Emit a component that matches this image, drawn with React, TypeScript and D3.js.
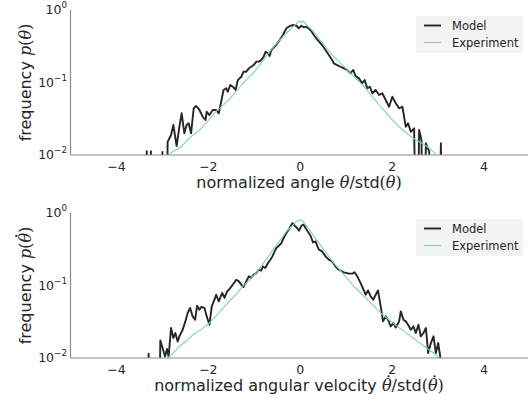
import React, { useLayoutEffect, useRef, useState } from 'react';
import * as d3 from 'd3';

// ---------- data ----------
const xTicks = [-4, -2, 0, 2, 4];
const yTicks = [0.01, 0.1, 1];
const yTickExponents = ['−2', '−1', '0'];
const seriesNames = ['Model', 'Experiment'];

// angle distribution: [normalized angle, frequency]  (0 = empty bin)
const angleModel: [number, number][] = [
  [-3.42, 0], [-3.34, 0.0113], [-3.31, 0], [-3.25, 0.0113], [-3.22, 0], [-3.02, 0], [-3.0, 0.011], [-2.97, 0], [-2.92, 0],
  [-2.886, 0.0152], [-2.812, 0.0189], [-2.762, 0.0259], [-2.69, 0.0133], [-2.631, 0.0245], [-2.581, 0.0376], [-2.522, 0.0199],
  [-2.472, 0.0259], [-2.428, 0.0274], [-2.376, 0.0199], [-2.319, 0.0441], [-2.266, 0.0474], [-2.194, 0.0418], [-2.122, 0.0337],
  [-2.063, 0.0304], [-2.035, 0.0395], [-1.976, 0.0356], [-1.904, 0.0418], [-1.83, 0.0418], [-1.773, 0.0376], [-1.721, 0.0543],
  [-1.67, 0.0789], [-1.611, 0.0832], [-1.576, 0.0746], [-1.524, 0.0925], [-1.467, 0.0875], [-1.408, 0.0789], [-1.358, 0.108],
  [-1.284, 0.12], [-1.234, 0.141], [-1.175, 0.141], [-1.118, 0.157], [-1.066, 0.165], [-1.015, 0.174], [-0.956, 0.194],
  [-0.9, 0.194], [-0.847, 0.204], [-0.797, 0.227], [-0.753, 0.266], [-0.703, 0.253], [-0.666, 0.232], [-0.629, 0.281],
  [-0.557, 0.312], [-0.448, 0.385], [-0.376, 0.452], [-0.301, 0.56], [-0.229, 0.601], [-0.157, 0.621], [-0.083, 0.607],
  [-0.033, 0.56], [0.026, 0.607], [0.076, 0.577], [0.135, 0.589], [0.223, 0.53], [0.295, 0.452], [0.367, 0.394],
  [0.476, 0.329], [0.55, 0.281], [0.622, 0.239], [0.694, 0.204], [0.731, 0.184], [0.803, 0.174], [0.878, 0.165],
  [0.95, 0.157], [1.022, 0.149], [1.096, 0.134], [1.153, 0.149], [1.205, 0.123], [1.277, 0.114], [1.349, 0.0975],
  [1.402, 0.108], [1.459, 0.0832], [1.517, 0.0875], [1.568, 0.071], [1.642, 0.0789], [1.714, 0.0673], [1.786, 0.071],
  [1.86, 0.0574], [1.932, 0.0463], [2.004, 0.0637], [2.079, 0.0516], [2.151, 0.0441], [2.223, 0.0463], [2.297, 0.0245],
  [2.347, 0.0274], [2.406, 0.0209], [2.478, 0.0233], [2.537, 0], [2.587, 0.0221], [2.638, 0.0161], [2.681, 0],
  [2.734, 0.0145], [2.806, 0.0111], [2.878, 0], [3.0, 0], [3.061, 0.0145], [3.096, 0], [3.2, 0],
];

const angleExperiment: [number, number][] = [
  [-2.9, 0.0098], [-2.78, 0.0111], [-2.59, 0.013], [-2.38, 0.0179], [-2.19, 0.0221], [-2.0, 0.03], [-1.83, 0.04],
  [-1.66, 0.05], [-1.54, 0.059], [-1.32, 0.086], [-1.18, 0.108], [-1.0, 0.14], [-0.88, 0.175], [-0.74, 0.232],
  [-0.59, 0.305], [-0.45, 0.385], [-0.3, 0.479], [-0.18, 0.57], [-0.07, 0.656], [-0.03, 0.711], [0.03, 0.667],
  [0.06, 0.711], [0.11, 0.656], [0.2, 0.57], [0.29, 0.501], [0.45, 0.373], [0.66, 0.253], [0.85, 0.192], [1.1, 0.134],
  [1.25, 0.107], [1.39, 0.0875], [1.55, 0.0659], [1.75, 0.0463], [1.92, 0.0352], [2.11, 0.0259], [2.25, 0.0218],
  [2.41, 0.0179], [2.6, 0.0151], [2.77, 0.013], [2.95, 0.0103], [3.02, 0.0095],
];

// angular velocity distribution
const velocityModel: [number, number][] = [
  [-3.4, 0], [-3.32, 0], [-3.3, 0.0115], [-3.28, 0], [-3.08, 0], [-3.046, 0.0175], [-2.996, 0.0137], [-2.943, 0.0105],
  [-2.9, 0.0133], [-2.865, 0.0105], [-2.812, 0.0259], [-2.762, 0.0189], [-2.718, 0.0221], [-2.668, 0.0169], [-2.631, 0.0199],
  [-2.559, 0.0245], [-2.5, 0.032], [-2.45, 0.0418], [-2.397, 0.049], [-2.341, 0.0375], [-2.288, 0.0337], [-2.245, 0.0526],
  [-2.194, 0.0463], [-2.157, 0.0505], [-2.085, 0.049], [-2.035, 0.0375], [-1.976, 0.0288], [-1.926, 0.0515], [-1.867, 0.0637],
  [-1.83, 0.0746], [-1.773, 0.0604], [-1.699, 0.0789], [-1.649, 0.0673], [-1.59, 0.083], [-1.539, 0.0895], [-1.467, 0.103],
  [-1.393, 0.12], [-1.336, 0.114], [-1.284, 0.103], [-1.234, 0.0953], [-1.175, 0.114], [-1.118, 0.134], [-1.066, 0.127],
  [-1.015, 0.141], [-0.956, 0.149], [-0.906, 0.165], [-0.847, 0.161], [-0.812, 0.183], [-0.76, 0.174], [-0.703, 0.204],
  [-0.651, 0.227], [-0.607, 0.252], [-0.557, 0.295], [-0.52, 0.329], [-0.463, 0.354], [-0.41, 0.385], [-0.36, 0.452],
  [-0.301, 0.53], [-0.229, 0.621], [-0.17, 0.728], [-0.12, 0.668], [-0.07, 0.621], [-0.026, 0.57], [0.026, 0.668],
  [0.076, 0.69], [0.114, 0.621], [0.223, 0.486], [0.279, 0.393], [0.332, 0.406], [0.404, 0.312], [0.476, 0.295],
  [0.55, 0.252], [0.622, 0.227], [0.694, 0.215], [0.769, 0.183], [0.841, 0.165], [0.95, 0.152], [1.059, 0.146],
  [1.131, 0.146], [1.183, 0.152], [1.24, 0.134], [1.314, 0.108], [1.371, 0.0895], [1.424, 0.0746], [1.474, 0.0855],
  [1.533, 0.0708], [1.59, 0.0637], [1.642, 0.0746], [1.692, 0.0855], [1.751, 0.0515], [1.801, 0.032], [1.86, 0.0375],
  [1.91, 0.0337], [1.969, 0.0273], [2.026, 0.0304], [2.079, 0.0264], [2.151, 0.032], [2.188, 0.044], [2.245, 0.0337],
  [2.297, 0.032], [2.347, 0.0288], [2.406, 0.0245], [2.463, 0.0273], [2.515, 0.0221], [2.572, 0.0288], [2.624, 0.0199],
  [2.681, 0.0221], [2.734, 0.0259], [2.784, 0.0117], [2.843, 0.0161], [2.9, 0.0199], [2.952, 0.0117], [3.002, 0.0161],
  [3.046, 0.0105], [3.08, 0], [3.2, 0],
];

const velocityExperiment: [number, number][] = [
  [-2.9, 0.0098], [-2.75, 0.012], [-2.63, 0.0145], [-2.48, 0.017], [-2.34, 0.0209], [-2.15, 0.025], [-1.98, 0.0304],
  [-1.8, 0.04], [-1.61, 0.0543], [-1.43, 0.072], [-1.25, 0.0973], [-1.1, 0.12], [-0.96, 0.149], [-0.77, 0.215],
  [-0.59, 0.312], [-0.45, 0.41], [-0.3, 0.557], [-0.18, 0.66], [-0.08, 0.766], [-0.01, 0.809], [0.06, 0.766],
  [0.11, 0.69], [0.3, 0.475], [0.51, 0.312], [0.73, 0.204], [0.95, 0.141], [1.17, 0.0973], [1.46, 0.0637],
  [1.75, 0.0418], [2.11, 0.0273], [2.41, 0.0199], [2.7, 0.0145], [2.95, 0.0111], [3.05, 0.0095],
];

// ---------- styling ----------
const MODEL_COLOR = '#262626';
const EXP_COLOR = '#7fd1b9';
const TEXT_COLOR = '#262626';
const SPINE_COLOR = '#8c8c8c';
const SANS = '"DejaVu Sans", sans-serif';
const SERIF = '"DejaVu Serif", serif';
const LABEL_SIZE = 16;

const mathI = { fontFamily: SERIF, fontStyle: 'italic' as const };
const mathR = { fontFamily: SERIF };

// A label (text at local origin, baseline y=0) that puts a dot above every tspan with class "dotted"
function MathLabel({ transform, children }: { transform: string; children: React.ReactNode }) {
  const ref = useRef<SVGTextElement>(null);
  const [dots, setDots] = useState<number[]>([]);
  useLayoutEffect(() => {
    if (!ref.current) return;
    const nodes = ref.current.querySelectorAll('tspan.dotted');
    const xs: number[] = [];
    nodes.forEach((n) => {
      const b = (n as SVGGraphicsElement).getBBox();
      xs.push(b.x + b.width / 2 + 1.6);
    });
    setDots(xs);
  }, []);
  return (
    <g transform={transform}>
      <text ref={ref} x={0} y={0} textAnchor="middle" fontSize={LABEL_SIZE} fill={TEXT_COLOR} fontFamily={SANS}>
        {children}
      </text>
      {dots.map((cx, i) => (
        <circle key={i} cx={cx} cy={-LABEL_SIZE * 0.92} r={1.1} fill={TEXT_COLOR} />
      ))}
    </g>
  );
}

type PanelProps = {
  id: string;
  top: number;
  model: [number, number][];
  experiment: [number, number][];
  xlabel: React.ReactNode;
  ylabel: React.ReactNode;
};

function Panel({ id, top, model, experiment, xlabel, ylabel }: PanelProps) {
  const height = 145;
  const left = 70.5;
  const right = 528;
  const x = d3.scaleLinear().domain([-5, 5]).range([70.5, 530]);
  const y = d3.scaleLog().domain([0.01, 1]).range([top + height, top]);
  const line = d3
    .line<[number, number]>()
    .x((d) => x(d[0]))
    .y((d) => (d[1] > 0 ? y(d[1]) : y(0.0001)));

  const legendX = 416;
  const legendY = top + 6;

  return (
    <g>
      <defs>
        <clipPath id={`clip-${id}`}>
          <rect x={left} y={top} width={right - left} height={height} />
        </clipPath>
      </defs>
      <g clipPath={`url(#clip-${id})`} fill="none">
        <path d={line(model) || ''} stroke={MODEL_COLOR} strokeWidth={1.9} strokeLinejoin="round" />
        <path d={line(experiment) || ''} stroke={EXP_COLOR} strokeWidth={1.1} strokeLinejoin="round" />
      </g>
      {/* spines */}
      <line x1={left} x2={left} y1={top} y2={top + height} stroke={SPINE_COLOR} strokeWidth={1.2} />
      <line x1={left} x2={right} y1={top + height} y2={top + height} stroke={SPINE_COLOR} strokeWidth={1.2} />
      {/* x tick labels */}
      {xTicks.map((t) => (
        <text key={t} x={x(t)} y={top + height + 16} textAnchor="middle" fontSize={12.5} fill={TEXT_COLOR} fontFamily={SANS}>
          {t < 0 ? `−${Math.abs(t)}` : `${t}`}
        </text>
      ))}
      {/* y tick labels */}
      {yTicks.map((t, i) => (
        <text key={t} x={67} y={y(t) + 4} textAnchor="end" fontSize={12.5} fill={TEXT_COLOR} fontFamily={SANS}>
          10
          <tspan dy={-6} fontSize={8.8}>
            {yTickExponents[i]}
          </tspan>
        </text>
      ))}
      {/* axis labels */}
      <MathLabel transform={`translate(299,${top + 178})`}>{xlabel}</MathLabel>
      <MathLabel transform={`translate(31,${top + height / 2}) rotate(-90)`}>{ylabel}</MathLabel>
      {/* legend */}
      <rect x={legendX} y={legendY} width={107} height={37} fill="#f3f3f3" />
      <line x1={legendX + 8} x2={legendX + 25} y1={legendY + 9.5} y2={legendY + 9.5} stroke={MODEL_COLOR} strokeWidth={1.9} />
      <line x1={legendX + 8} x2={legendX + 25} y1={legendY + 26.5} y2={legendY + 26.5} stroke={EXP_COLOR} strokeWidth={1.1} />
      <text x={legendX + 36} y={legendY + 13.5} fontSize={11.5} fill={TEXT_COLOR} fontFamily={SANS}>
        {seriesNames[0]}
      </text>
      <text x={legendX + 36} y={legendY + 30.5} fontSize={11.5} fill={TEXT_COLOR} fontFamily={SANS}>
        {seriesNames[1]}
      </text>
    </g>
  );
}

export default function App() {
  return (
    <svg
      width={528}
      height={402}
      viewBox="0 0 528 402"
      style={{ position: 'absolute', left: 0, top: 0, background: '#ffffff' }}
    >
      <rect x={0} y={0} width={528} height={402} fill="#ffffff" />
      <Panel
        id="angle"
        top={10}
        model={angleModel}
        experiment={angleExperiment}
        xlabel={
          <>
            normalized angle <tspan style={mathI}>θ</tspan>/std<tspan style={mathR}>(</tspan>
            <tspan style={mathI}>θ</tspan>
            <tspan style={mathR}>)</tspan>
          </>
        }
        ylabel={
          <>
            frequency <tspan style={mathI}>p</tspan>
            <tspan style={mathR}>(</tspan>
            <tspan style={mathI}>θ</tspan>
            <tspan style={mathR}>)</tspan>
          </>
        }
      />
      <Panel
        id="velocity"
        top={213}
        model={velocityModel}
        experiment={velocityExperiment}
        xlabel={
          <>
            normalized angular velocity <tspan className="dotted" style={mathI}>θ</tspan>/std
            <tspan style={mathR}>(</tspan>
            <tspan className="dotted" style={mathI}>θ</tspan>
            <tspan style={mathR}>)</tspan>
          </>
        }
        ylabel={
          <>
            frequency <tspan style={mathI}>p</tspan>
            <tspan style={mathR}>(</tspan>
            <tspan className="dotted" style={mathI}>θ</tspan>
            <tspan style={mathR}>)</tspan>
          </>
        }
      />
    </svg>
  );
}
